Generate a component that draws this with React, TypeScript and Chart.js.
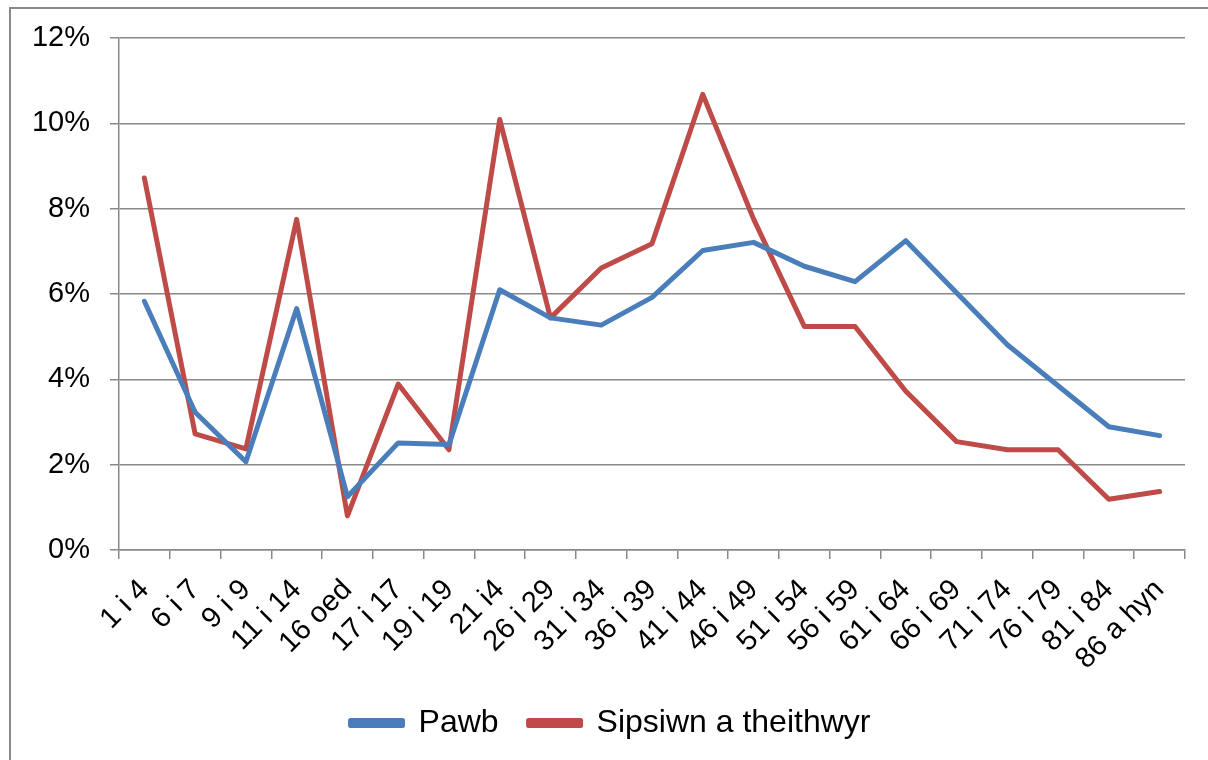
import React, { useEffect, useRef } from "react";
import { Chart, registerables } from "chart.js";

Chart.register(...registerables);

const categories = [
  "1 i 4", "6 i 7", "9 i 9", "11 i 14", "16 oed", "17 i 17", "19 i 19", "21 i4",
  "26 i 29", "31 i 34", "36 i 39", "41 i 44", "46 i 49", "51 i 54", "56 i 59",
  "61 i 64", "66 i 69", "71 i 74", "76 i 79", "81 i 84", "86 a hyn",
];

const pawb = [
  5.83, 3.23, 2.07, 5.66, 1.25, 2.51, 2.47, 6.1, 5.44, 5.27, 5.92, 7.02, 7.21,
  6.65, 6.29, 7.25, 6.03, 4.81, 3.85, 2.89, 2.68,
];

const sipsiwn = [
  8.72, 2.72, 2.37, 7.75, 0.8, 3.89, 2.35, 10.09, 5.44, 6.61, 7.18, 10.68, 7.76,
  5.24, 5.24, 3.72, 2.54, 2.35, 2.35, 1.19, 1.37,
];

const seriesNames = ["Pawb", "Sipsiwn a theithwyr"];
const yTicks = [0, 2, 4, 6, 8, 10, 12];

const FONT = "'Liberation Sans', Arial, sans-serif";
const GRID = "#898989";

const legendShift = {
  id: "legendShift",
  afterLayout(chart: any) {
    if (chart.legend) {
      chart.legend.left += 18;
      chart.legend.right += 18;
    }
  },
};

export default function App() {
  const ref = useRef<HTMLCanvasElement | null>(null);

  useEffect(() => {
    if (!ref.current) return;
    const chart = new Chart(ref.current, {
      type: "line",
      data: {
        labels: categories,
        datasets: [
          {
            label: seriesNames[0],
            data: pawb,
            borderColor: "#4a7ebb",
            backgroundColor: "#4a7ebb",
            borderWidth: 5,
            pointRadius: 0,
            tension: 0,
            borderCapStyle: "round",
            borderJoinStyle: "round",
          },
          {
            label: seriesNames[1],
            data: sipsiwn,
            borderColor: "#be4b48",
            backgroundColor: "#be4b48",
            borderWidth: 5,
            pointRadius: 0,
            tension: 0,
            borderCapStyle: "round",
            borderJoinStyle: "round",
          },
        ],
      },
      plugins: [legendShift],
      options: {
        responsive: false,
        animation: false,
        layout: { padding: { left: 0, right: 23, top: 38, bottom: 11 } },
        plugins: {
          tooltip: { enabled: false },
          legend: {
            position: "bottom",
            labels: {
              font: { family: FONT, size: 32 },
              color: "#000",
              boxWidth: 52,
              boxHeight: 5,
              padding: 30,
            },
          },
        },
        scales: {
          x: {
            type: "category",
            offset: true,
            grid: {
              offset: true,
              drawOnChartArea: false,
              drawTicks: true,
              tickLength: 9,
              color: GRID,
              lineWidth: 1.5,
            },
            border: { color: GRID, width: 1.5 },
            ticks: {
              autoSkip: false,
              minRotation: 45,
              maxRotation: 45,
              color: "#000",
              font: { family: FONT, size: 29 },
              padding: 14,
            },
            afterFit: (s: any) => {
              s.height = 127;
            },
          },
          y: {
            min: 0,
            max: 12,
            afterBuildTicks: (s: any) => {
              s.ticks = yTicks.map((v) => ({ value: v }));
            },
            grid: {
              color: GRID,
              lineWidth: 1.5,
              tickLength: 9,
            },
            border: { color: GRID, width: 1.5 },
            ticks: {
              color: "#000",
              font: { family: FONT, size: 29 },
              padding: 20,
              callback: (v: any) => `${v}%`,
            },
            afterFit: (s: any) => {
              s.width = 119;
            },
          },
        },
      },
    });
    return () => chart.destroy();
  }, []);

  return (
    <div style={{ position: "fixed", left: 0, top: 0, width: 1208, height: 760, background: "#fff" }}>
      <div
        style={{
          position: "absolute",
          left: 9,
          top: 7,
          width: 1300,
          height: 800,
          borderTop: `2px solid ${GRID}`,
          borderLeft: `2px solid ${GRID}`,
        }}
      />
      <canvas
        ref={ref}
        width={1208}
        height={760}
        style={{ position: "absolute", left: 0, top: 0, width: 1208, height: 760 }}
      />
    </div>
  );
}
